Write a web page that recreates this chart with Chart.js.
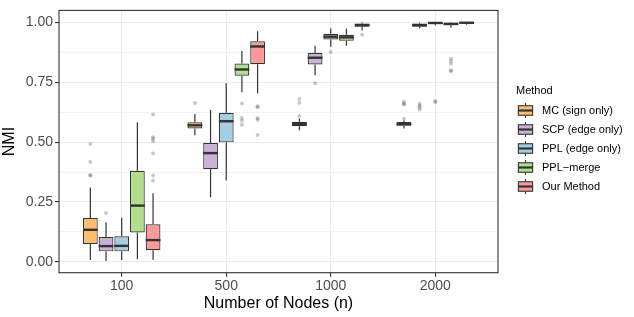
<!DOCTYPE html>
<html>
<head>
<meta charset="utf-8">
<script src="https://cdn.jsdelivr.net/npm/chart.js@4.4.0/dist/chart.umd.min.js"></script>
<style>
  html, body { margin: 0; padding: 0; background: #fff; }
  #wrap { width: 634px; height: 317px; }
</style>
</head>
<body>
<div id="wrap"><canvas id="nmiChart"></canvas></div>
<script>
const nodeSizes = ['100', '500', '1000', '2000'];
const methods = ['MC (sign only)', 'SCP (edge only)', 'PPL (edge only)', 'PPL\u2212merge', 'Our Method'];
const methodColors = ['#FDBF6F', '#CAB2D6', '#A6CEE3', '#B2DF8A', '#FB9A99'];
const yTicks = [0, 0.25, 0.5, 0.75, 1];

// each row: [lower whisker, Q1, median, Q3, upper whisker], one row per node size
const mcStats = [
  [0.008, 0.075, 0.134, 0.183, 0.311],
  [0.529, 0.557, 0.570, 0.583, 0.617],
  [0.549, 0.566, 0.575, 0.585, 0.598],
  [0.557, 0.568, 0.575, 0.584, 0.590]
];
const scpStats = [
  [0.004, 0.044, 0.066, 0.104, 0.165],
  [0.270, 0.387, 0.454, 0.496, 0.634],
  [0.779, 0.824, 0.852, 0.873, 0.902],
  [0.975, 0.981, 0.988, 0.995, 0.999]
];
const pplStats = [
  [0.008, 0.044, 0.067, 0.107, 0.184],
  [0.340, 0.499, 0.587, 0.622, 0.746],
  [0.898, 0.928, 0.940, 0.952, 0.974],
  [0.988, 0.993, 0.997, 1.000, 1.000]
];
const mergeStats = [
  [0.011, 0.123, 0.235, 0.380, 0.582],
  [0.708, 0.777, 0.803, 0.828, 0.880],
  [0.902, 0.923, 0.937, 0.948, 0.974],
  [0.977, 0.988, 0.993, 0.998, 1.000]
];
const ourStats = [
  [0.009, 0.049, 0.091, 0.157, 0.287],
  [0.704, 0.825, 0.899, 0.921, 0.962],
  [0.966, 0.981, 0.988, 0.995, 1.000],
  [0.990, 0.995, 0.998, 1.000, 1.000]
];

const mcOutliers = [[0.492, 0.417, 0.363, 0.361], [0.663], [0.680, 0.664, 0.609], [0.668, 0.660, 0.657, 0.597]];
const scpOutliers = [[0.204], [], [0.745], [0.660, 0.652, 0.645, 0.636]];
const pplOutliers = [[], [], [0.876], [0.670, 0.667]];
const mergeOutliers = [[], [0.661, 0.600, 0.589, 0.572], [], [0.848, 0.838, 0.827, 0.800, 0.796]];
const ourOutliers = [[0.615, 0.520, 0.514, 0.503, 0.452, 0.361, 0.340], [0.650, 0.645, 0.601, 0.593, 0.530], [0.948], []];

const allStats = [mcStats, scpStats, pplStats, mergeStats, ourStats];
const allOutliers = [mcOutliers, scpOutliers, pplOutliers, mergeOutliers, ourOutliers];

const FONT = '"Liberation Sans", Arial, sans-serif';
const INK = '#333333';

// whiskers, outliers, medians, panel border and the legend
const boxplotParts = {
  id: 'boxplotParts',
  beforeDatasetsDraw(chart) {
    const ctx = chart.ctx;
    const y = chart.scales.y;
    ctx.save();
    chart.data.datasets.forEach((ds, m) => {
      chart.getDatasetMeta(m).data.forEach((bar, i) => {
        const s = allStats[m][i];
        ctx.fillStyle = 'rgba(60,60,60,0.28)';
        allOutliers[m][i].forEach(v => {
          ctx.beginPath();
          ctx.arc(bar.x, y.getPixelForValue(v), 2, 0, Math.PI * 2);
          ctx.fill();
        });
        ctx.strokeStyle = INK;
        ctx.lineWidth = 1.2;
        ctx.beginPath();
        ctx.moveTo(bar.x, y.getPixelForValue(s[0]));
        ctx.lineTo(bar.x, y.getPixelForValue(s[1]));
        ctx.moveTo(bar.x, y.getPixelForValue(s[3]));
        ctx.lineTo(bar.x, y.getPixelForValue(s[4]));
        ctx.stroke();
      });
    });
    ctx.restore();
  },
  afterDatasetsDraw(chart) {
    const ctx = chart.ctx;
    const y = chart.scales.y;
    ctx.save();
    ctx.strokeStyle = INK;
    ctx.lineWidth = 2.4;
    chart.data.datasets.forEach((ds, m) => {
      chart.getDatasetMeta(m).data.forEach((bar, i) => {
        const py = y.getPixelForValue(allStats[m][i][2]);
        ctx.beginPath();
        ctx.moveTo(bar.x - bar.width / 2, py);
        ctx.lineTo(bar.x + bar.width / 2, py);
        ctx.stroke();
      });
    });
    ctx.restore();
  },
  afterDraw(chart) {
    const ctx = chart.ctx;
    const a = chart.chartArea;
    ctx.save();
    ctx.strokeStyle = INK;
    ctx.lineWidth = 1.1;
    ctx.strokeRect(a.left, a.top, a.right - a.left, a.bottom - a.top);

    // legend
    const keyX = 516, keySize = 19, firstY = 101, labelX = 542;
    ctx.fillStyle = '#000';
    ctx.font = '11px ' + FONT;
    ctx.textBaseline = 'alphabetic';
    ctx.textAlign = 'left';
    ctx.fillText('Method', keyX, 93.5);
    methods.forEach((name, m) => {
      const top = firstY + m * keySize;
      const cx = keyX + keySize / 2;
      ctx.strokeStyle = INK;
      ctx.lineWidth = 1.1;
      ctx.beginPath();
      ctx.moveTo(cx, top + keySize * 0.1);
      ctx.lineTo(cx, top + keySize * 0.25);
      ctx.moveTo(cx, top + keySize * 0.75);
      ctx.lineTo(cx, top + keySize * 0.9);
      ctx.stroke();
      ctx.fillStyle = methodColors[m];
      ctx.fillRect(keyX + keySize * 0.125, top + keySize * 0.25, keySize * 0.75, keySize * 0.5);
      ctx.strokeRect(keyX + keySize * 0.125, top + keySize * 0.25, keySize * 0.75, keySize * 0.5);
      ctx.lineWidth = 2.2;
      ctx.beginPath();
      ctx.moveTo(keyX + keySize * 0.125, top + keySize / 2);
      ctx.lineTo(keyX + keySize * 0.875, top + keySize / 2);
      ctx.stroke();
      ctx.fillStyle = '#000';
      ctx.textBaseline = 'middle';
      ctx.fillText(name, labelX, top + keySize / 2);
    });
    ctx.restore();
  }
};

const isMajor = v => yTicks.some(t => Math.abs(t - v) < 1e-6);

new Chart(document.getElementById('nmiChart'), {
  type: 'bar',
  data: {
    datasets: methods.map((name, m) => ({
      label: name,
      data: nodeSizes.map((n, i) => ({ x: i + 1, y: [allStats[m][i][1], allStats[m][i][3]] })),
      backgroundColor: methodColors[m],
      borderColor: INK,
      borderWidth: 1.2,
      borderSkipped: false,
      barPercentage: 0.94,
      categoryPercentage: 0.75
    }))
  },
  options: {
    responsive: true,
    maintainAspectRatio: false,
    animation: false,
    layout: { padding: { left: 0, top: 5.7, right: 136, bottom: 0 } },
    plugins: { legend: { display: false }, tooltip: { enabled: false } },
    scales: {
      x: {
        type: 'linear',
        offset: false,
        min: 0.4,
        max: 4.6,
        afterBuildTicks: s => { s.ticks = nodeSizes.map((n, i) => ({ value: i + 1 })); },
        afterFit: s => { s.height = 44.3; },
        ticks: {
          autoSkip: false,
          maxRotation: 0,
          padding: 1,
          color: '#4D4D4D',
          font: { family: FONT, size: 14 },
          callback: (v, i) => nodeSizes[i]
        },
        grid: { offset: false, color: '#EBEBEB', lineWidth: 1.1, tickLength: 4, tickColor: INK, tickWidth: 1.1 },
        border: { display: false },
        title: {
          display: true,
          text: 'Number of Nodes (n)',
          color: '#000',
          font: { family: FONT, size: 16 },
          padding: { top: 0, bottom: 4 }
        }
      },
      y: {
        min: -0.045,
        max: 1.0495,
        afterBuildTicks: s => {
          s.ticks = [0, 0.125, 0.25, 0.375, 0.5, 0.625, 0.75, 0.875, 1].map(v => ({ value: v }));
        },
        afterFit: s => { s.width = 59; },
        ticks: {
          padding: 2,
          color: '#4D4D4D',
          font: { family: FONT, size: 14 },
          callback: v => (isMajor(v) ? v.toFixed(2) : '')
        },
        grid: {
          color: '#EBEBEB',
          lineWidth: c => (c.tick && isMajor(c.tick.value) ? 1.1 : 0.55),
          tickLength: 4,
          tickWidth: 1.1,
          tickColor: c => (c.tick && isMajor(c.tick.value) ? INK : 'rgba(0,0,0,0)')
        },
        border: { display: false },
        title: {
          display: true,
          text: 'NMI',
          color: '#000',
          font: { family: FONT, size: 16 },
          padding: 0
        }
      }
    }
  },
  plugins: [boxplotParts]
});
</script>
</body>
</html>
